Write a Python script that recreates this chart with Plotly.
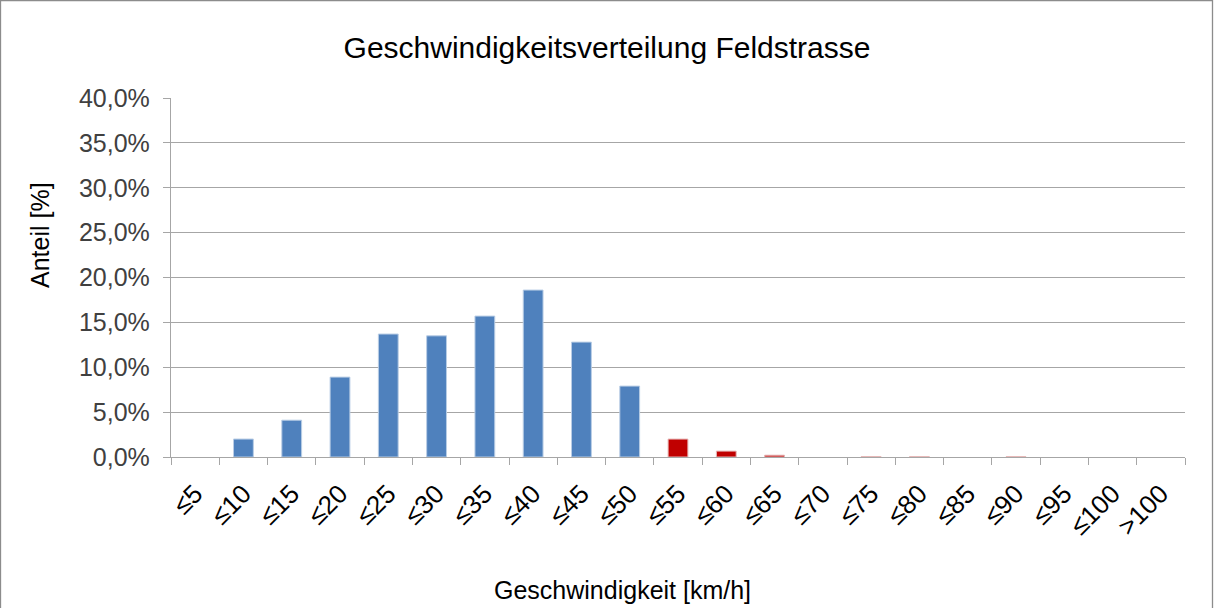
import plotly.graph_objects as go

categories = ["≤5", "≤10", "≤15", "≤20", "≤25", "≤30", "≤35", "≤40", "≤45", "≤50",
              "≤55", "≤60", "≤65", "≤70", "≤75", "≤80", "≤85", "≤90", "≤95", "≤100", ">100"]
shares = [0.0, 0.020, 0.041, 0.089, 0.137, 0.135, 0.157, 0.186, 0.128, 0.079,
          0.020, 0.0066, 0.002, 0.0, 0.0005, 0.0003, 0.0, 0.0003, 0.0, 0.0, 0.0]
speed_limit_index = 10  # categories from "≤55" on are above the limit

BLUE = "#4F81BD"
RED = "#C00000"
colors = [BLUE if i < speed_limit_index else RED for i in range(len(categories))]
line_colors = ["#B9CDE5" if i < speed_limit_index else "#E6B9B8" for i in range(len(categories))]
line_widths = [1 if v > 0 else 0 for v in shares]

fig = go.Figure()
fig.add_trace(go.Bar(
    x=categories, y=shares,
    marker=dict(color=colors, line=dict(color=line_colors, width=line_widths)),
    width=0.41,
    hoverinfo="x+y",
))

L, R, T, B = 171, 29, 98, 151
W, H = 1214, 608
pw, ph = W - L - R, H - T - B

FONT = "Liberation Sans, Arial, sans-serif"

fig.update_layout(
    width=W, height=H,
    margin=dict(l=L, r=R, t=T, b=B),
    paper_bgcolor="white", plot_bgcolor="white",
    separators=",.",
    showlegend=False,
    font=dict(family=FONT, color="#000000"),
    title=dict(text="Geschwindigkeitsverteilung Feldstrasse",
               x=0.5, xanchor="center", y=1 - 47 / H, yanchor="middle",
               font=dict(size=30, color="#000000", family=FONT)),
    xaxis=dict(
        type="category",
        tickson="boundaries",
        ticks="outside", ticklen=7, tickcolor="#A6A6A6", tickwidth=1.3,
        ticklabelstandoff=10,
        showline=True, linecolor="#A6A6A6", linewidth=1.3,
        showgrid=False,
        tickangle=-45,
        tickfont=dict(size=26, color="#000000", family=FONT),
    ),
    yaxis=dict(
        range=[0, 0.4], dtick=0.05, tickformat=".1%",
        ticks="outside", ticklen=7, tickcolor="#A6A6A6", tickwidth=1.3,
        ticklabelstandoff=8,
        showline=True, linecolor="#A6A6A6", linewidth=1.3,
        showgrid=True, gridcolor="#A6A6A6", gridwidth=1.3,
        zeroline=False,
        tickfont=dict(size=25, color="#404040", family=FONT),
    ),
    annotations=[
        dict(text="Anteil [%]", xref="paper", yref="paper",
             x=(40 - L) / pw, y=(457 - 235) / ph, textangle=-90,
             showarrow=False, xanchor="center", yanchor="middle",
             font=dict(size=25, color="#000000", family=FONT)),
        dict(text="Geschwindigkeit [km/h]", xref="paper", yref="paper",
             x=(622 - L) / pw, y=(457 - 590) / ph,
             showarrow=False, xanchor="center", yanchor="middle",
             font=dict(size=25, color="#000000", family=FONT)),
    ],
    shapes=[
        dict(type="rect", xref="paper", yref="paper",
             x0=(0.5 - L) / pw, x1=(W - 1.5 - L) / pw,
             y0=(457 - (H + 5)) / ph, y1=(457 - 0.5) / ph,
             line=dict(color="#8C8C8C", width=1.3), fillcolor="rgba(0,0,0,0)", layer="above"),
    ],
)

fig.write_html(
    "out.html",
    config={"displayModeBar": False},
    post_script="document.body.style.margin='0';document.body.style.overflow='hidden';",
)
